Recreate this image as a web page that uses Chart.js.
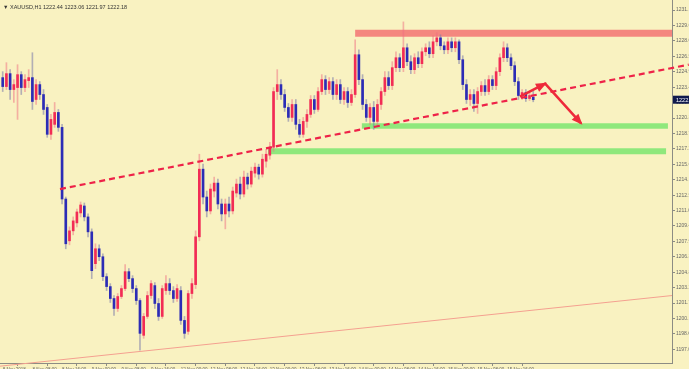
<!DOCTYPE html>
<html><head><meta charset="utf-8">
<script src="https://cdn.jsdelivr.net/npm/chart.js@4.4.1/dist/chart.umd.min.js"></script>
<style>
html,body{margin:0;padding:0;background:#F9F2C1;overflow:hidden;}
#wrap{position:relative;width:689px;height:369px;background:#F9F2C1;}
canvas{display:block;}
#hdr{position:absolute;left:3px;top:4px;font:5.5px "Liberation Sans",Arial,sans-serif;color:#333;white-space:nowrap;}
</style>
</head><body>
<div id="wrap"><canvas id="c" width="689" height="369"></canvas><div id="hdr">▼ XAUUSD,H1 1222.44 1223.06 1221.97 1222.18</div></div>
<script>
const opens=[1224.4,1223.5,1224.8,1223.2,1223.4,1224.7,1223.4,1224.1,1224.4,1222.2,
1223.7,1222.7,1221.4,1218.7,1219.7,1220.9,1219.4,1212.2,1208.0,1209.0,
1209.8,1210.8,1211.5,1210.4,1208.9,1205.7,1207.2,1206.4,1204.4,1203.4,
1202.2,1201.2,1202.4,1203.2,1204.9,1204.2,1203.2,1202.0,1198.5,1200.4,
1202.5,1203.5,1201.7,1200.4,1203.0,1203.7,1203.0,1202.2,1203.0,1200.0,
1198.9,1202.7,1203.6,1208.4,1215.2,1212.4,1211.0,1213.0,1213.8,1211.7,
1210.7,1211.7,1211.0,1212.8,1213.7,1212.7,1214.4,1213.7,1214.8,1215.4,
1214.7,1216.0,1216.6,1217.4,1223.0,1223.7,1222.7,1221.4,1220.4,1221.7,
1219.7,1218.7,1220.0,1220.7,1222.2,1221.2,1223.0,1224.2,1223.2,1224.0,
1222.7,1223.7,1222.2,1223.0,1221.9,1222.7,1226.7,1224.2,1221.7,1220.4,
1221.4,1220.0,1221.7,1223.0,1224.4,1223.6,1225.4,1226.4,1225.4,1227.4,
1226.0,1225.2,1226.4,1225.8,1227.0,1227.4,1226.8,1228.0,1228.4,1227.6,
1227.2,1228.0,1227.4,1228.0,1226.2,1223.7,1222.2,1222.7,1221.8,1223.0,
1223.6,1223.0,1224.2,1223.6,1225.0,1226.4,1227.4,1226.4,1225.6,1224.0,
1222.6,1222.9,1222.3,1222.44];
const closes=[1223.5,1224.8,1223.2,1223.7,1224.7,1223.4,1224.2,1224.4,1222.0,1223.7,
1222.7,1221.2,1218.7,1220.2,1220.9,1219.4,1212.2,1207.7,1209.0,1210.0,
1210.9,1211.6,1210.4,1208.9,1205.0,1207.2,1206.4,1204.4,1203.4,1202.2,
1201.2,1202.4,1203.2,1204.9,1204.2,1203.2,1202.0,1198.7,1200.4,1202.5,
1203.7,1201.7,1200.4,1203.2,1203.7,1203.0,1202.2,1203.2,1200.0,1198.7,
1202.7,1203.7,1208.4,1215.2,1212.4,1211.0,1213.2,1213.8,1211.7,1210.7,
1211.7,1211.0,1213.0,1213.7,1212.7,1214.4,1213.7,1215.0,1215.4,1214.7,
1216.2,1216.7,1217.4,1223.0,1223.7,1222.7,1221.4,1220.4,1221.7,1219.7,
1218.7,1220.0,1220.7,1222.2,1221.2,1223.0,1224.2,1223.2,1224.0,1222.7,
1223.7,1222.2,1223.0,1221.9,1222.7,1226.7,1224.2,1221.7,1220.4,1221.4,
1220.0,1221.7,1223.0,1224.4,1223.6,1225.4,1226.4,1225.4,1227.4,1226.0,
1225.2,1226.4,1225.8,1227.0,1227.4,1226.8,1228.0,1228.4,1227.6,1227.2,
1228.0,1227.4,1228.0,1226.2,1223.7,1222.2,1222.7,1221.8,1223.0,1223.6,
1223.0,1224.2,1223.6,1225.0,1226.4,1227.4,1226.4,1225.6,1224.0,1222.6,
1222.9,1222.3,1222.6,1222.18];
const highs=[1225.0,1225.9,1225.2,1224.2,1225.7,1225.0,1224.7,1225.2,1226.9,1224.2,
1224.0,1223.2,1221.7,1220.7,1221.9,1221.2,1219.7,1212.4,1209.4,1210.4,
1211.2,1211.9,1211.8,1210.7,1209.2,1207.7,1207.6,1206.7,1204.7,1203.7,
1202.5,1202.7,1203.5,1205.6,1205.2,1204.5,1203.5,1202.2,1200.7,1202.9,
1204.0,1203.8,1202.2,1203.5,1204.5,1204.2,1203.4,1203.6,1203.4,1200.4,
1203.0,1204.2,1209.0,1216.7,1215.7,1213.0,1213.7,1214.4,1214.2,1212.2,
1212.2,1212.4,1213.4,1214.2,1214.4,1215.0,1214.8,1215.4,1215.8,1215.7,
1216.7,1217.2,1217.9,1223.4,1225.2,1224.2,1223.2,1221.8,1222.2,1222.2,
1220.2,1220.4,1221.2,1222.6,1222.6,1223.4,1224.7,1224.6,1224.4,1224.4,
1224.2,1224.2,1223.4,1223.4,1223.2,1228.2,1227.2,1224.7,1222.2,1221.8,
1222.0,1222.2,1223.4,1225.0,1225.0,1226.0,1227.0,1226.8,1230.0,1227.8,
1226.6,1226.8,1227.0,1227.4,1227.8,1228.0,1228.6,1228.9,1228.7,1228.0,
1228.4,1228.4,1228.4,1228.2,1226.6,1224.2,1223.2,1223.2,1223.4,1224.0,
1224.2,1224.6,1224.6,1225.4,1226.8,1228.0,1227.8,1226.8,1226.0,1224.4,
1223.2,1223.2,1222.9,1223.06];
const lows=[1223.0,1223.2,1222.2,1221.9,1220.2,1222.7,1223.0,1223.4,1221.2,1221.7,
1222.2,1220.7,1218.4,1218.2,1219.4,1219.0,1211.7,1207.2,1207.6,1208.6,
1209.4,1210.4,1210.0,1208.4,1204.2,1205.2,1206.0,1204.0,1203.0,1201.8,
1200.5,1200.9,1202.2,1203.0,1203.9,1202.8,1201.6,1197.0,1198.2,1200.2,
1202.2,1201.2,1200.0,1200.2,1202.6,1202.6,1201.8,1201.9,1199.6,1198.2,
1198.6,1202.2,1203.2,1208.0,1211.7,1210.4,1210.7,1212.4,1211.2,1210.0,
1209.2,1210.4,1210.7,1212.4,1212.2,1212.4,1213.2,1213.4,1214.4,1214.2,
1214.4,1215.4,1216.2,1217.0,1222.2,1222.2,1221.0,1220.0,1220.0,1219.2,
1218.4,1218.4,1219.4,1220.4,1220.8,1221.0,1222.7,1222.7,1222.8,1222.2,
1222.2,1221.8,1221.7,1221.4,1221.6,1222.4,1223.7,1221.2,1220.0,1219.7,
1219.2,1219.6,1221.2,1222.6,1223.2,1223.2,1225.0,1225.0,1225.0,1225.6,
1224.8,1224.8,1225.4,1225.4,1226.6,1226.4,1226.4,1227.6,1227.2,1226.8,
1226.8,1227.0,1227.0,1225.8,1223.2,1221.8,1221.6,1221.0,1220.8,1222.6,
1222.6,1222.7,1223.2,1223.2,1224.6,1226.0,1226.0,1225.2,1223.6,1222.2,
1222.2,1222.0,1222.1,1221.97];

const timeTickBars=[0,8,16,24,32,40,48,56,64,72,80,88,96,104,112,120,128,136];
const timeLabels=["8 Nov 2018","8 Nov 08:00","8 Nov 16:00","9 Nov 00:00","9 Nov 08:00","9 Nov 16:00",
"12 Nov 00:00","12 Nov 08:00","12 Nov 16:00","13 Nov 00:00","13 Nov 08:00","13 Nov 16:00",
"14 Nov 00:00","14 Nov 08:00","14 Nov 16:00","15 Nov 00:00","15 Nov 08:00","15 Nov 16:00"];
const priceTicks=[1231.19,1229.64,1228.09,1226.54,1224.99,1223.44,1221.89,1220.34,1218.79,1217.24,
1215.69,1214.14,1212.59,1211.04,1209.49,1207.94,1206.39,1204.84,1203.29,1201.74,1200.19,1198.64,1197.09];

// drawn objects (bar index, price)
const trendDashX=[15.44,184.9], trendDashY=[1213.2,1225.7];
const supportLineX=[-0.73,180.4], supportLineY=[1195.4,1202.5];
const resistZoneX=[95.0,180.4], resistZoneY=1228.85;
const greenZone1X=[96.8,179.3], greenZone1Y=1219.53;
const greenZone2X=[71.5,178.8], greenZone2Y=1217.0;
const arrowX=[139.4,146.2,155.9], arrowY=[1222.5,1223.8,1219.8];

const xMin=-0.73, xMax=180.4, yMin=1195.72, yMax=1232.2;

const RED='#f22c55', BLUE='#2c2cb6';
const pts=(xs,ys)=>xs.map((x,i)=>({x:x,y:Array.isArray(ys)?ys[i]:ys}));
const bull=i=>closes[i]>=opens[i];

const arrowPlugin={id:'arrowheads',afterDatasetsDraw(chart){
  const idx=chart.data.datasets.findIndex(d=>d.label==='arrow');
  const m=chart.getDatasetMeta(idx); const p=m.data; const ctx=chart.ctx;
  ctx.save(); ctx.fillStyle='#ee2a3a';
  for(let k=1;k<p.length;k++){
    const a=p[k-1], b=p[k]; const ang=Math.atan2(b.y-a.y,b.x-a.x);
    const L=9,W=4.5;
    ctx.beginPath();
    ctx.moveTo(b.x+Math.cos(ang)*2,b.y+Math.sin(ang)*2);
    ctx.lineTo(b.x-Math.cos(ang)*L-Math.sin(ang)*W,b.y-Math.sin(ang)*L+Math.cos(ang)*W);
    ctx.lineTo(b.x-Math.cos(ang)*L+Math.sin(ang)*W,b.y-Math.sin(ang)*L-Math.cos(ang)*W);
    ctx.closePath(); ctx.fill();
  }
  ctx.restore();
}};
const priceTagPlugin={id:'priceTag',afterDraw(chart){
  const ctx=chart.ctx, ys=chart.scales.y, last=closes[closes.length-1];
  const y=ys.getPixelForValue(last), x=chart.chartArea.right;
  ctx.save(); ctx.fillStyle='#101a4e'; ctx.fillRect(x+1,y-4,20,8);
  ctx.fillStyle='#ffffff'; ctx.font='5.5px "Liberation Sans",Arial,sans-serif';
  ctx.textBaseline='middle'; ctx.fillText(last.toFixed(2),x+4,y+0.5); ctx.restore();
}};

new Chart(document.getElementById('c'),{
  type:'bar',
  data:{datasets:[
    {type:'line',label:'arrow',data:pts(arrowX,arrowY),borderColor:'#ee2a3a',borderWidth:2.5,pointRadius:0,order:1},
    {type:'line',label:'trend',data:pts(trendDashX,trendDashY),borderColor:'#ee2248',borderWidth:2.2,borderDash:[6,4],pointRadius:0,clip:false,order:2},
    {type:'line',label:'support',data:pts(supportLineX,supportLineY),borderColor:'#f4a090',borderWidth:1,pointRadius:0,clip:false,order:3},
    {type:'line',label:'resist',data:pts(resistZoneX,resistZoneY),borderColor:'#f4877f',borderWidth:7,borderCapStyle:'butt',pointRadius:0,order:7},
    {type:'line',label:'green1',data:pts(greenZone1X,greenZone1Y),borderColor:'#8fe87c',borderWidth:5.5,borderCapStyle:'butt',pointRadius:0,order:7},
    {type:'line',label:'green2',data:pts(greenZone2X,greenZone2Y),borderColor:'#8fe87c',borderWidth:6,borderCapStyle:'butt',pointRadius:0,order:7},
    {label:'bodies',data:opens.map((o,i)=>({x:i,y:[o,closes[i]]})),grouped:false,barThickness:2,minBarLength:1,
      backgroundColor:c=>bull(c.dataIndex)?RED:BLUE,order:4},
    {label:'wicks',data:lows.map((l,i)=>({x:i,y:[l,highs[i]]})),grouped:false,barThickness:1,
      backgroundColor:c=>bull(c.dataIndex)?'rgba(240,110,130,0.5)':'rgba(120,120,170,0.55)',order:5}
  ]},
  options:{
    responsive:false,animation:false,
    layout:{padding:0},
    plugins:{legend:{display:false},tooltip:{enabled:false}},
    scales:{
      x:{type:'linear',min:xMin,max:xMax,offset:false,
        grid:{drawOnChartArea:false,tickLength:3,color:'#8c8c84'},
        border:{color:'#8c8c84'},
        afterBuildTicks:s=>{s.ticks=timeTickBars.map(v=>({value:v}));},
        afterFit:s=>{s.height=6;s.paddingLeft=0;s.paddingRight=0;},
        ticks:{autoSkip:false,maxRotation:0,minRotation:0,align:'start',padding:1,color:'#666',
          font:{size:4.5,family:'"Liberation Sans",Arial,sans-serif'},callback:(v,i)=>timeLabels[i]}},
      y:{position:'right',min:yMin,max:yMax,
        grid:{drawOnChartArea:false,tickLength:3,color:'#8c8c84'},
        border:{color:'#8c8c84'},
        afterBuildTicks:s=>{s.ticks=priceTicks.map(v=>({value:v}));},
        afterFit:s=>{s.width=17;s.paddingTop=0;s.paddingBottom=0;},
        ticks:{padding:1,color:'#666',font:{size:5,family:'"Liberation Sans",Arial,sans-serif'},callback:v=>v.toFixed(2)}}
    }
  },
  plugins:[arrowPlugin,priceTagPlugin]
});
</script>
</body></html>
